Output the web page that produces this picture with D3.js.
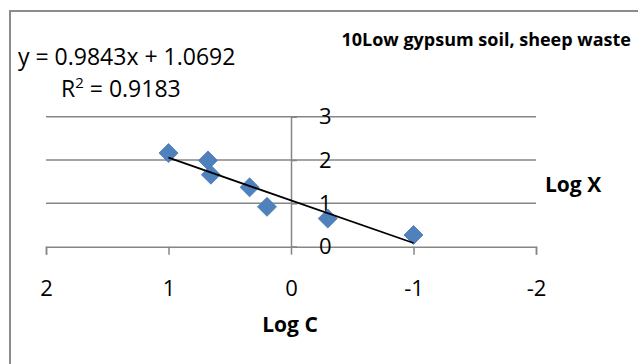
<!DOCTYPE html>
<html>
<head>
<meta charset="utf-8">
<script src="https://cdn.jsdelivr.net/npm/d3@7"></script>
<style>
  body { margin: 0; background: #fff; }
  svg { display: block; font-family: "Open Sans", sans-serif; }
</style>
</head>
<body>
<svg id="chart" width="638" height="364"></svg>
<script>
// Log C vs Log X readings
const logC = [1.0, 0.678, 0.654, 0.338, 0.196, -0.30, -1.0];
const logX = [2.16, 1.99, 1.66, 1.37, 0.92, 0.65, 0.27];

const xTicks = [2, 1, 0, -1, -2];
const yTicks = [0, 1, 2, 3];

// trendline from Excel
const slope = 0.9843;
const intercept = 1.0692;
const r2 = 0.9183;
const trendRange = [1, -1];

const svg = d3.select("#chart");

const x = d3.scaleLinear().domain([2, -2]).range([46, 536]);
const y = d3.scaleLinear().domain([0, 3]).range([246.7, 116.7]);

const gridColor = "#868686";

// Chart border (only top + left visible)
svg.append("path")
    .attr("d", "M10,364 L10,11 L638,11")
    .attr("fill", "none")
    .attr("stroke", "#8c8c8c")
    .attr("stroke-width", 2);

// Horizontal gridlines
svg.append("g")
    .selectAll("line")
    .data(yTicks.filter(d => d !== 0))
    .join("line")
    .attr("x1", x(2))
    .attr("x2", x(-2))
    .attr("y1", d => y(d))
    .attr("y2", d => y(d))
    .attr("stroke", gridColor)
    .attr("stroke-width", 1.5);

// X axis (at y = 0)
const xAxis = d3.axisBottom(x)
    .tickValues(xTicks)
    .tickSize(8)
    .tickPadding(26)
    .tickFormat(d3.format("d"));

const gx = svg.append("g")
    .attr("transform", `translate(0,${y(0)})`)
    .call(xAxis);
gx.select(".domain").attr("stroke", gridColor).attr("stroke-width", 1.5);
gx.selectAll(".tick line").attr("stroke", gridColor).attr("stroke-width", 1.5);
gx.selectAll(".tick text")
    .attr("font-size", 22)
    .attr("font-family", "Open Sans, sans-serif")
    .attr("fill", "#000")
    .text(d => d < 0 ? "-" + Math.abs(d) : d);

// Y axis (at x = 0), labels on the right side
const yAxis = d3.axisRight(y)
    .tickValues(yTicks)
    .tickSize(6)
    .tickPadding(22)
    .tickFormat(d3.format("d"));

const gy = svg.append("g")
    .attr("transform", `translate(${x(0)},0)`)
    .call(yAxis);
gy.select(".domain").attr("stroke", gridColor).attr("stroke-width", 1.5);
gy.selectAll(".tick line").attr("stroke", gridColor).attr("stroke-width", 1.5);
gy.selectAll(".tick text")
    .attr("font-size", 22)
    .attr("font-family", "Open Sans, sans-serif")
    .attr("fill", "#000");

// Data markers (diamonds)
const diamond = d3.symbol().type(d3.symbolSquare).size(180);
svg.append("g")
    .selectAll("path")
    .data(logC.map((c, i) => [c, logX[i]]))
    .join("path")
    .attr("d", diamond)
    .attr("transform", d => `translate(${x(d[0])},${y(d[1])}) rotate(45)`)
    .attr("fill", "#4f81bd")
    .attr("stroke", "#4a7ab3")
    .attr("stroke-width", 0.8);

// Linear trendline
svg.append("line")
    .attr("x1", x(trendRange[0]))
    .attr("y1", y(slope * trendRange[0] + intercept))
    .attr("x2", x(trendRange[1]))
    .attr("y2", y(slope * trendRange[1] + intercept))
    .attr("stroke", "#000")
    .attr("stroke-width", 1.8);

// Trendline equation
svg.append("text")
    .attr("x", 18)
    .attr("y", 65)
    .attr("font-size", 23)
    .text(`y = ${slope}x + ${intercept}`);

const r2Text = svg.append("text")
    .attr("x", 61)
    .attr("y", 97)
    .attr("font-size", 23);
r2Text.append("tspan").text("R");
r2Text.append("tspan").attr("font-size", 15).attr("dy", -9).text("2");
r2Text.append("tspan").attr("dy", 9).text(` = ${r2}`);

// Title
svg.append("text")
    .attr("x", 631)
    .attr("y", 46)
    .attr("text-anchor", "end")
    .attr("font-size", 18)
    .attr("font-weight", "bold")
    .text("10Low gypsum soil, sheep waste");

// Axis titles
svg.append("text")
    .attr("x", 545)
    .attr("y", 192)
    .attr("font-size", 21)
    .attr("font-weight", "bold")
    .text("Log X");

svg.append("text")
    .attr("x", 290)
    .attr("y", 332)
    .attr("text-anchor", "middle")
    .attr("font-size", 21)
    .attr("font-weight", "bold")
    .text("Log C");
</script>
</body>
</html>
